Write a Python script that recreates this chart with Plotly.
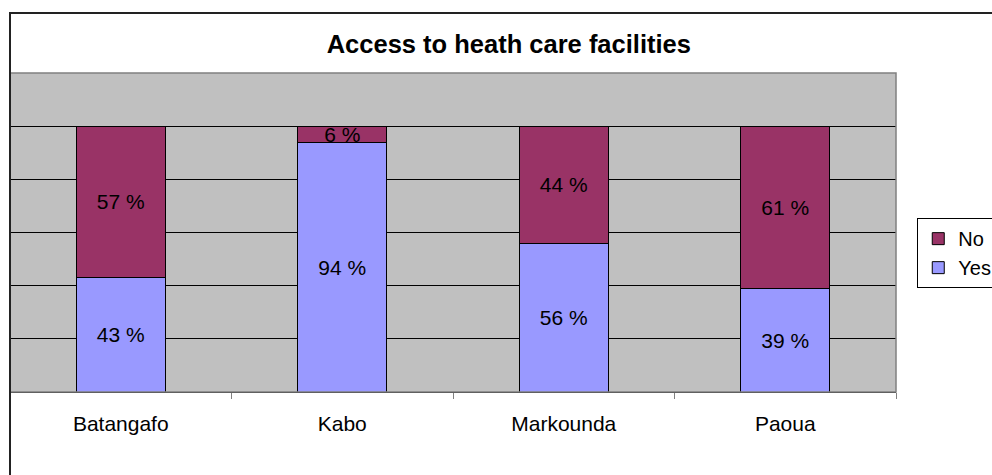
import plotly.graph_objects as go

# Survey sites and share of respondents (percent)
sites = ["Batangafo", "Kabo", "Markounda", "Paoua"]
yes_pct = [43, 94, 56, 39]
no_pct = [57, 6, 44, 61]

FONT = "Liberation Sans, Arial, sans-serif"

fig = go.Figure()
fig.add_trace(go.Bar(
    name="Yes", x=sites, y=yes_pct,
    marker=dict(color="#9999FF", line=dict(color="#000000", width=1)),
    text=[f"{v} %" for v in yes_pct], textposition="inside",
    insidetextanchor="middle", constraintext="none",
    textfont=dict(color="#000000", size=21, family=FONT),
    hoverinfo="skip",
))
fig.add_trace(go.Bar(
    name="No", x=sites, y=no_pct,
    marker=dict(color="#993366", line=dict(color="#000000", width=1)),
    text=[f"{v} %" for v in no_pct], textposition="inside",
    insidetextanchor="middle", constraintext="none",
    textfont=dict(color="#000000", size=21, family=FONT),
    hoverinfo="skip",
))

fig.update_layout(
    width=992, height=475,
    margin=dict(l=10, r=96, t=73, b=83, autoexpand=False),
    barmode="stack", bargap=0.6,
    paper_bgcolor="#FFFFFF", plot_bgcolor="#C0C0C0",
    font=dict(family=FONT, size=21, color="#000000"),
    title=dict(
        text="<b>Access to heath care facilities</b>",
        font=dict(family=FONT, size=25.5, color="#000000"),
        x=0.563, xref="paper", xanchor="center",
        y=1 - 44 / 475, yref="container", yanchor="middle",
    ),
    showlegend=True,
    legend=dict(
        x=1.024, xanchor="left", y=0.545, yanchor="top",
        bgcolor="#FFFFFF", bordercolor="#000000", borderwidth=1,
        font=dict(family=FONT, size=20, color="#000000"),
        traceorder="reversed",
    ),
    xaxis=dict(
        showline=True, linecolor="#000000", linewidth=1,
        ticks="outside", tickson="boundaries", ticklen=6,
        tickcolor="#808080", tickwidth=1,
        showgrid=False, zeroline=False,
        ticklabelstandoff=13,
        tickfont=dict(family=FONT, size=21, color="#000000"),
    ),
    yaxis=dict(
        range=[0, 120], tickvals=[20, 40, 60, 80, 100],
        showticklabels=False, ticks="",
        showgrid=True, gridcolor="#000000", gridwidth=1,
        zeroline=False, showline=False, fixedrange=True,
    ),
    shapes=[
        # plot-area frame
        dict(type="rect", xref="paper", yref="paper", x0=0, x1=1, y0=0, y1=1,
             line=dict(color="#808080", width=1.5), fillcolor="rgba(0,0,0,0)",
             layer="above"),
        # chart-area frame
        dict(type="rect", xref="paper", yref="paper", x0=0, x1=1.2, y0=-0.5, y1=1.188,
             line=dict(color="#222222", width=2), fillcolor="rgba(0,0,0,0)",
             layer="above"),
    ],
)

fig.write_html("out.html")
